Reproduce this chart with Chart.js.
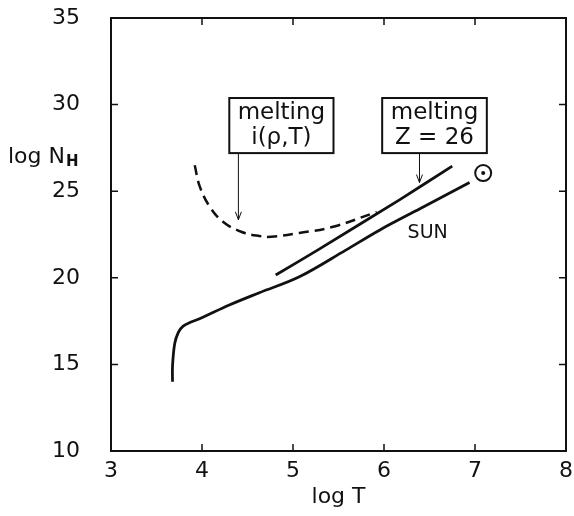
<!DOCTYPE html>
<html>
<head>
<meta charset="utf-8">
<script src="https://cdn.jsdelivr.net/npm/chart.js@4"></script>
<style>
  html, body { margin: 0; padding: 0; background: #fff; }
</style>
</head>
<body>
<canvas id="nhChart" width="574" height="516"></canvas>
<script>
// SUN track (solid)
const sunLogT = [3.676, 3.676, 3.70, 3.74, 3.79, 3.88, 3.98, 4.30, 4.63, 5.07, 5.58, 5.95, 6.40, 6.94];
const sunLogN = [14.0, 14.9, 16.2, 16.85, 17.2, 17.45, 17.65, 18.43, 19.14, 20.06, 21.6, 22.75, 24.0, 25.5];

// melting, Z = 26 (solid)
const zMeltLogT = [4.81, 5.27, 6.17, 6.75];
const zMeltLogN = [20.16, 21.6, 24.5, 26.45];

// melting, i(rho,T) (dashed)
const iMeltLogT = [3.92, 3.976, 4.086, 4.23, 4.43, 4.63, 4.76, 5.07, 5.43, 5.92];
const iMeltLogN = [26.5, 25.26, 24.1, 23.24, 22.66, 22.41, 22.37, 22.59, 22.93, 23.8];

const xTicks = [3, 4, 5, 6, 7, 8];
const yTicks = [10, 15, 20, 25, 30, 35];

const FONT = '"DejaVu Sans", sans-serif';
const INK = '#111';

function toPoints(xs, ys) {
    return xs.map((x, i) => ({ x: x, y: ys[i] }));
}

// boxes, arrows and labels, in data units
const notes = {
    boxes: [
        { x0: 4.30, x1: 5.445, y0: 27.2, y1: 30.38, lines: ['melting', 'i(\u03C1,T)'] },
        { x0: 5.98, x1: 7.13, y0: 27.2, y1: 30.38, lines: ['melting', 'Z = 26'] }
    ],
    arrows: [
        { x: 4.40, yFrom: 27.2, yTo: 23.35 },
        { x: 6.39, yFrom: 27.2, yTo: 25.5 }
    ],
    sun: { x: 6.48, y: 22.6 },
    sunSymbol: { x: 7.09, y: 26.05 }
};

const framePlugin = {
    id: 'frame',
    afterDatasetsDraw(chart) {
        const { ctx, chartArea: a, scales } = chart;
        const xs = scales.x, ys = scales.y;
        ctx.save();
        ctx.strokeStyle = INK;
        ctx.fillStyle = INK;

        // box round the plot
        ctx.lineWidth = 2;
        ctx.strokeRect(a.left, a.top, a.right - a.left, a.bottom - a.top);

        // inward ticks on all four sides
        ctx.lineWidth = 1.5;
        const tl = 7;
        xTicks.slice(1, -1).forEach(v => {
            const px = xs.getPixelForValue(v);
            ctx.beginPath();
            ctx.moveTo(px, a.bottom); ctx.lineTo(px, a.bottom - tl);
            ctx.moveTo(px, a.top); ctx.lineTo(px, a.top + tl);
            ctx.stroke();
        });
        yTicks.slice(1, -1).forEach(v => {
            const py = ys.getPixelForValue(v);
            ctx.beginPath();
            ctx.moveTo(a.left, py); ctx.lineTo(a.left + tl, py);
            ctx.moveTo(a.right, py); ctx.lineTo(a.right - tl, py);
            ctx.stroke();
        });

        // axis titles
        ctx.textBaseline = 'alphabetic';
        ctx.font = '22px ' + FONT;
        ctx.textAlign = 'center';
        ctx.fillText('log T', (a.left + a.right) / 2, a.bottom + 52);

        ctx.textAlign = 'left';
        const base = ys.getPixelForValue(26.6);
        ctx.fillText('log N', 8, base);
        const w = ctx.measureText('log N').width;
        ctx.font = 'bold 15px ' + FONT;
        ctx.fillText('H', 8 + w + 1, base + 3);

        // labelled boxes
        notes.boxes.forEach(b => {
            const l = xs.getPixelForValue(b.x0), r = xs.getPixelForValue(b.x1);
            const t = ys.getPixelForValue(b.y1), btm = ys.getPixelForValue(b.y0);
            ctx.lineWidth = 2;
            ctx.strokeRect(l, t, r - l, btm - t);
            ctx.font = '23px ' + FONT;
            ctx.textAlign = 'center';
            ctx.textBaseline = 'middle';
            const cx = (l + r) / 2;
            ctx.fillText(b.lines[0], cx, t + 15);
            ctx.fillText(b.lines[1], cx, t + 40);
        });

        // arrows
        ctx.lineWidth = 1;
        notes.arrows.forEach(ar => {
            const px = xs.getPixelForValue(ar.x);
            const y0 = ys.getPixelForValue(ar.yFrom), y1 = ys.getPixelForValue(ar.yTo);
            ctx.beginPath();
            ctx.moveTo(px, y0); ctx.lineTo(px, y1);
            ctx.moveTo(px - 3, y1 - 8); ctx.lineTo(px, y1); ctx.lineTo(px + 3, y1 - 8);
            ctx.stroke();
        });

        // SUN label and solar symbol
        ctx.font = '19px ' + FONT;
        ctx.textAlign = 'center';
        ctx.textBaseline = 'middle';
        ctx.fillText('SUN', xs.getPixelForValue(notes.sun.x), ys.getPixelForValue(notes.sun.y));

        const sx = xs.getPixelForValue(notes.sunSymbol.x), sy = ys.getPixelForValue(notes.sunSymbol.y);
        ctx.lineWidth = 2;
        ctx.beginPath();
        ctx.arc(sx, sy, 8, 0, Math.PI * 2);
        ctx.stroke();
        ctx.beginPath();
        ctx.arc(sx, sy, 2, 0, Math.PI * 2);
        ctx.fill();

        ctx.restore();
    }
};

const ctx = document.getElementById('nhChart').getContext('2d');
new Chart(ctx, {
    type: 'scatter',
    data: {
        datasets: [
            {
                label: 'SUN',
                data: toPoints(sunLogT, sunLogN),
                showLine: true,
                borderColor: INK,
                borderWidth: 2.8,
                pointRadius: 0,
                tension: 0.35
            },
            {
                label: 'melting Z = 26',
                data: toPoints(zMeltLogT, zMeltLogN),
                showLine: true,
                borderColor: INK,
                borderWidth: 2.8,
                pointRadius: 0,
                tension: 0.2
            },
            {
                label: 'melting i(rho,T)',
                data: toPoints(iMeltLogT, iMeltLogN),
                showLine: true,
                borderColor: INK,
                borderWidth: 2.5,
                borderDash: [10, 6],
                pointRadius: 0,
                tension: 0.4
            }
        ]
    },
    options: {
        responsive: false,
        animation: false,
        layout: { padding: { top: 18, right: 8, left: 0, bottom: 0 } },
        plugins: {
            legend: { display: false },
            tooltip: { enabled: false }
        },
        scales: {
            x: {
                type: 'linear',
                min: 3,
                max: 8,
                afterFit: (s) => { s.height = 65; s.paddingLeft = 0; s.paddingRight = 0; },
                afterBuildTicks: (s) => { s.ticks = xTicks.map(v => ({ value: v })); },
                grid: { display: false },
                border: { display: false },
                ticks: { color: INK, font: { family: FONT, size: 22 }, padding: -1 }
            },
            y: {
                type: 'linear',
                min: 10,
                max: 35,
                afterFit: (s) => { s.width = 111; s.paddingTop = 0; s.paddingBottom = 0; },
                afterBuildTicks: (s) => { s.ticks = yTicks.map(v => ({ value: v })); },
                grid: { display: false },
                border: { display: false },
                ticks: { color: INK, font: { family: FONT, size: 22 }, padding: 23 }
            }
        }
    },
    plugins: [framePlugin]
});
</script>
</body>
</html>
